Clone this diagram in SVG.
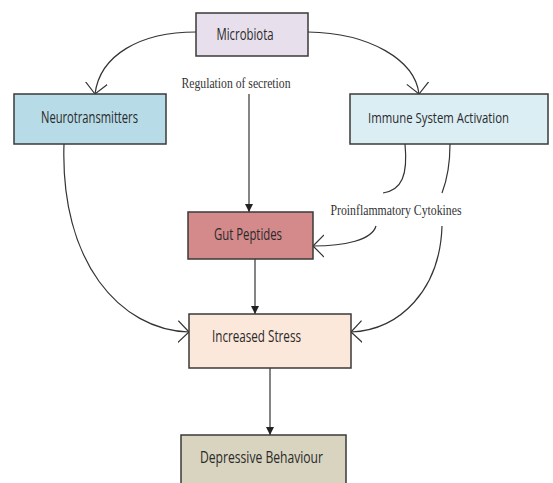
<svg xmlns="http://www.w3.org/2000/svg" width="553" height="483" viewBox="0 0 553 483">
<defs>
<style>
.box{stroke:#3a3a3a;stroke-width:1.5}
.lbl{font-family:"Open Sans","Liberation Sans",sans-serif;font-size:16px;fill:#2a2a2a;text-anchor:middle}
.ser{font-family:"Liberation Serif","Times New Roman",serif;font-size:15.5px;fill:#333;text-anchor:middle}
.c{fill:none;stroke:#333;stroke-width:1.2}
</style>
<marker id="fa" viewBox="0 0 10 10" refX="10" refY="5" markerWidth="8" markerHeight="9" markerUnits="userSpaceOnUse" orient="auto">
<path d="M0,0 L10,5 L0,10 z" fill="#222"/>
</marker>
<marker id="oa" viewBox="0 0 12 24" refX="11" refY="12" markerWidth="12" markerHeight="24" markerUnits="userSpaceOnUse" orient="auto">
<path d="M0,1 L11,12 L0,23" fill="none" stroke="#333" stroke-width="1.2"/>
</marker>
</defs>
<rect width="553" height="483" fill="#fff"/>
<g id="connectors">
<path class="c" d="M196,32 C140,32 100,55 95,94" marker-end="url(#oa)"/>
<path class="c" d="M308,32 C370,33 415,60 419,94" marker-end="url(#oa)"/>
<path class="c" d="M249,94 L249,212" marker-end="url(#fa)"/>
<path class="c" d="M255,259 L255,314" marker-end="url(#fa)"/>
<path class="c" d="M270,368 L270,435" marker-end="url(#fa)"/>
<path class="c" d="M64,144 C60,262 120,330 189,332" marker-end="url(#oa)"/>
<path class="c" d="M405,144 C408,175 402,190 383,193"/>
<path class="c" d="M450,144 C450,165 447,180 442,193"/>
<path class="c" d="M376,226 C372,240 345,246 313,246" marker-end="url(#oa)"/>
<path class="c" d="M442,226 C440,290 400,330 351,332" marker-end="url(#oa)"/>
</g>
<g id="microbiota">
<rect class="box" x="196" y="13" width="112" height="43" fill="#e8dfec"/>
<text class="lbl" x="245" y="40" textLength="57" lengthAdjust="spacingAndGlyphs">Microbiota</text>
</g>
<g id="neurotransmitters">
<rect class="box" x="14" y="94" width="152" height="50" fill="#b7dce7"/>
<text class="lbl" x="89.5" y="123" textLength="97" lengthAdjust="spacingAndGlyphs">Neurotransmitters</text>
</g>
<g id="immune">
<rect class="box" x="350" y="94" width="198" height="50" fill="#dbeef4"/>
<text class="lbl" x="438.5" y="123" style="font-size:15px" textLength="141" lengthAdjust="spacingAndGlyphs">Immune System Activation</text>
</g>
<g id="regulation-label">
<text class="ser" x="236" y="88" textLength="109" lengthAdjust="spacingAndGlyphs">Regulation of secretion</text>
</g>
<g id="cytokines-label">
<text class="ser" x="396" y="215" textLength="131" lengthAdjust="spacingAndGlyphs">Proinflammatory Cytokines</text>
</g>
<g id="gut-peptides">
<rect class="box" x="188" y="212" width="125" height="47" fill="#d4898b"/>
<text class="lbl" x="248" y="240" textLength="68" lengthAdjust="spacingAndGlyphs">Gut Peptides</text>
</g>
<g id="increased-stress">
<rect class="box" x="189" y="314" width="162" height="54" fill="#fce7db"/>
<text class="lbl" x="256.5" y="342" textLength="89" lengthAdjust="spacingAndGlyphs">Increased Stress</text>
</g>
<g id="depressive">
<rect class="box" x="181" y="435" width="165" height="60" fill="#d8d4bf"/>
<text class="lbl" x="261.5" y="463" textLength="123" lengthAdjust="spacingAndGlyphs">Depressive  Behaviour</text>
</g>
</svg>
